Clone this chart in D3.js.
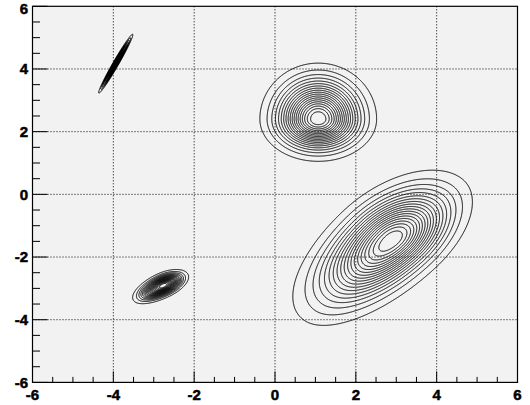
<!DOCTYPE html>
<html>
<head>
<meta charset="utf-8">
<script src="https://cdn.jsdelivr.net/npm/d3@7"></script>
<style>
  body { margin: 0; background: #fff; }
  svg { display: block; }
  .lbl { font-family: "Liberation Sans", Arial, Helvetica, sans-serif; font-weight: 700; font-size: 15px; fill: #000; stroke: #000; stroke-width: 0.5px; }
</style>
</head>
<body>
<div id="chart"></div>
<script>
// peaks of the 2D function (data units), angle of the u axis in degrees
const peakX     = [2.89, 1.07, -2.76, -3.94];
const peakY     = [-1.46, 2.40, -2.91, 4.17];
const peakAngle = [50, 0, 34, 66];
const sigUPlus  = [1.07, 0.59, 0.29, 0.42];
const sigUMinus = [1.37, 0.59, 0.36, 0.42];
const sigVPlus  = [0.62, 0.73, 0.16, 0.03];
const sigVMinus = [0.57, 0.55, 0.15, 0.03];
const peakAmp   = [1, 1, 1, 1];

const nLevels = 20;
const xTickValues = [-6, -4, -2, 0, 2, 4, 6];
const yTickValues = [-6, -4, -2, 0, 2, 4, 6];

(function(){
  const svgWidth = 530, svgHeight = 405;
  const x = d3.scaleLinear().domain([-6, 6]).range([32.5, 517.5]);
  const y = d3.scaleLinear().domain([-6, 6]).range([382.4, 6.3]);

  const svg = d3.select("#chart").append("svg").attr("width", svgWidth).attr("height", svgHeight);

  const fx = x.range()[0], fy = y.range()[1];
  const fw = x.range()[1] - fx, fh = y.range()[0] - fy;

  svg.append("rect").attr("x", fx).attr("y", fy).attr("width", fw).attr("height", fh)
    .attr("fill", "#f2f2f2");

  // dotted grid at major ticks
  const grid = svg.append("g").attr("stroke", "#000").attr("stroke-width", 1).attr("stroke-dasharray", "1,2");
  xTickValues.slice(1, -1).forEach(v => {
    grid.append("line").attr("x1", x(v)).attr("x2", x(v)).attr("y1", fy).attr("y2", fy + fh);
  });
  yTickValues.slice(1, -1).forEach(v => {
    grid.append("line").attr("x1", fx).attr("x2", fx + fw).attr("y1", y(v)).attr("y2", y(v));
  });

  // sample the function
  function field(px, py) {
    let s = 0;
    for (let k = 0; k < peakX.length; k++) {
      const a = peakAngle[k] * Math.PI / 180;
      const dx = px - peakX[k], dy = py - peakY[k];
      const u = Math.cos(a) * dx + Math.sin(a) * dy;
      const v = -Math.sin(a) * dx + Math.cos(a) * dy;
      const su = u > 0 ? sigUPlus[k] : sigUMinus[k];
      const sv = v > 0 ? sigVPlus[k] : sigVMinus[k];
      s += peakAmp[k] * Math.exp(-0.5 * ((u / su) ** 2 + (v / sv) ** 2));
    }
    return s;
  }

  const nx = 970, ny = 752;
  const values = new Float64Array(nx * ny);
  for (let j = 0; j < ny; j++) {
    const gy = 6 - (j + 0.5) * 12 / ny;
    for (let i = 0; i < nx; i++) {
      values[j * nx + i] = field(-6 + (i + 0.5) * 12 / nx, gy);
    }
  }
  const minV = d3.min(values), maxV = d3.max(values);
  const levels = d3.range(1, nLevels).map(k => minV + k * (maxV - minV) / nLevels);

  const contours = d3.contours().size([nx, ny]).thresholds(levels)(values);
  const proj = d3.geoTransform({
    point: function(px, py) { this.stream.point(x(-6 + px * 12 / nx), y(6 - py * 12 / ny)); }
  });
  const path = d3.geoPath(proj);

  svg.append("clipPath").attr("id", "frameclip").append("rect")
    .attr("x", fx).attr("y", fy).attr("width", fw).attr("height", fh);

  svg.append("g").attr("clip-path", "url(#frameclip)")
    .selectAll("path").data(contours).join("path")
    .attr("d", path).attr("fill", "none").attr("stroke", "#000").attr("stroke-width", 1);

  // frame
  svg.append("rect").attr("x", fx).attr("y", fy).attr("width", fw).attr("height", fh)
    .attr("fill", "none").attr("stroke", "#000").attr("stroke-width", 1.2);

  // ticks
  const ticks = svg.append("g").attr("stroke", "#000").attr("stroke-width", 1);
  d3.range(-6, 6.01, 0.5).forEach(v => {
    const len = xTickValues.includes(v) ? 11 : 5.5;
    ticks.append("line").attr("x1", x(v)).attr("x2", x(v)).attr("y1", fy + fh).attr("y2", fy + fh - len);
    const lenY = yTickValues.includes(v) ? 15 : 7.5;
    ticks.append("line").attr("x1", fx).attr("x2", fx + lenY).attr("y1", y(v)).attr("y2", y(v));
  });

  // labels
  xTickValues.forEach(v => {
    svg.append("text").attr("class", "lbl").attr("x", x(v)).attr("y", 400)
      .attr("text-anchor", "middle").text(v);
  });
  yTickValues.forEach(v => {
    svg.append("text").attr("class", "lbl").attr("x", 28).attr("y", Math.max(y(v), 9)).attr("dy", "0.36em")
      .attr("text-anchor", "end").text(v);
  });
})();
</script>
</body>
</html>
